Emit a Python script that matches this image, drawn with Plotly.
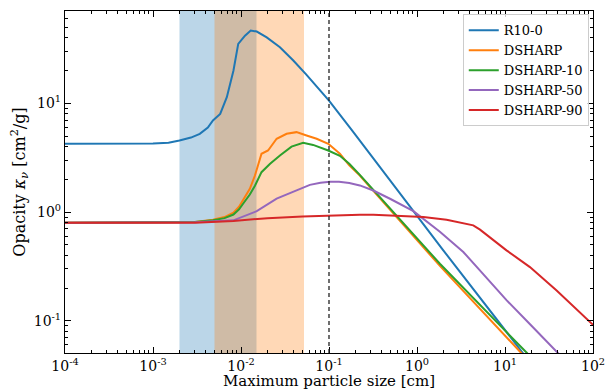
import plotly.graph_objects as go

# ---- data ----
r10_x = [1e-4, 5e-4, 1e-3, 0.0015, 0.002, 0.0027, 0.0034, 0.0042, 0.0048, 0.0058, 0.0069, 0.0082, 0.0093,
         0.0111, 0.0129, 0.0151, 0.0196, 0.0277, 0.0393, 0.0556, 0.075, 0.1, 0.18, 0.333, 0.95, 1.99,
         16.1, 25]
r10_y = [4.25, 4.25, 4.27, 4.35, 4.55, 4.85, 5.25, 6.0, 6.96, 8.0, 11.4, 20, 35.3,
         42, 46.8, 45.8, 40.5, 32.9, 24.8, 18.3, 13.85, 10.6, 5.75, 2.99, 1.0, 0.445,
         0.05, 0.031]

ds_x = [1e-4, 1e-3, 0.003, 0.0048, 0.0065, 0.0082, 0.0095, 0.0106, 0.0126, 0.0144, 0.0157, 0.0171,
        0.0203, 0.0222, 0.0254, 0.033, 0.0427, 0.0556, 0.0724, 0.0982, 0.133, 0.17, 0.224, 0.587,
        1.82, 15.5, 25]
ds_y = [0.8, 0.8, 0.81, 0.85, 0.9, 0.99, 1.12, 1.3, 1.64, 2.17, 2.78, 3.44,
        3.69, 4.1, 4.73, 5.25, 5.44, 5.07, 4.73, 4.25, 3.44, 2.69, 2.17, 0.9,
        0.32, 0.05, 0.033]

d10_x = [1e-4, 1e-3, 0.003, 0.0048, 0.0065, 0.0082, 0.0095, 0.0106, 0.0126, 0.0144, 0.0171, 0.0214,
         0.0277, 0.0375, 0.0508, 0.066, 0.098, 0.133, 0.17, 0.224, 0.587, 1.82, 18, 25]
d10_y = [0.8, 0.8, 0.81, 0.84, 0.88, 0.95, 1.06, 1.2, 1.45, 1.75, 2.33, 2.78,
         3.32, 4.0, 4.34, 4.15, 3.69, 3.3, 2.78, 2.2, 0.92, 0.335, 0.05, 0.037]

d50_x = [1e-4, 1e-3, 0.003, 0.0082, 0.0151, 0.0254, 0.0508, 0.0606, 0.08, 0.103, 0.13, 0.17, 0.224,
         0.319, 0.5, 0.91, 1.82, 2.5, 3.36, 5.0, 10.4, 20, 40.4, 60]
d50_y = [0.8, 0.8, 0.805, 0.84, 1.02, 1.33, 1.68, 1.78, 1.86, 1.9, 1.9, 1.85, 1.76,
         1.58, 1.32, 1.02, 0.66, 0.53, 0.43, 0.30, 0.155, 0.09, 0.05, 0.036]

d90_x = [1e-4, 1e-3, 0.003, 0.0082, 0.0126, 0.02, 0.05, 0.1, 0.224, 0.32, 0.587, 1.18, 2.17,
         3.0, 3.66, 4.36, 5.2, 10.4, 19.2, 38.6, 100]
d90_y = [0.8, 0.8, 0.8, 0.83, 0.856, 0.88, 0.91, 0.93, 0.945, 0.945, 0.93, 0.9, 0.85,
         0.81, 0.785, 0.755, 0.69, 0.445, 0.312, 0.19, 0.092]

series = [("R10-0", r10_x, r10_y, "#1f77b4"),
          ("DSHARP", ds_x, ds_y, "#ff7f0e"),
          ("DSHARP-10", d10_x, d10_y, "#2ca02c"),
          ("DSHARP-50", d50_x, d50_y, "#9467bd"),
          ("DSHARP-90", d90_x, d90_y, "#d62728")]

band_blue = [0.002, 0.015]
band_orange = [0.005, 0.052]
vline_x = 0.1

x_tickvals = [1e-4, 1e-3, 1e-2, 1e-1, 1, 10, 100]
x_ticktext = ["10<sup>-4</sup>", "10<sup>-3</sup>", "10<sup>-2</sup>", "10<sup>-1</sup>",
              "10<sup>0</sup>", "10<sup>1</sup>", "10<sup>2</sup>"]
y_tickvals = [0.1, 1, 10]
y_ticktext = ["10<sup>-1</sup>", "10<sup>0</sup>", "10<sup>1</sup>"]

font = "DejaVu Serif"

fig = go.Figure()
for name, xs, ys, col in series:
    fig.add_trace(go.Scatter(x=xs, y=ys, mode="lines", name=name,
                             line=dict(color=col, width=2)))

fig.add_vrect(x0=band_blue[0], x1=band_blue[1], fillcolor="#1f77b4", opacity=0.3,
              line_width=0, layer="below")
fig.add_vrect(x0=band_orange[0], x1=band_orange[1], fillcolor="#ff7f0e", opacity=0.3,
              line_width=0, layer="below")
fig.add_vline(x=vline_x, line=dict(color="#222222", width=1.3, dash="4px,3px"))

axis_common = dict(type="log", showgrid=False, zeroline=False, showline=True, linecolor="black",
                   linewidth=1.2, mirror="ticks", ticks="inside", ticklen=6, tickwidth=1,
                   tickcolor="black", automargin=False,
                   tickfont=dict(family=font, size=14, color="black"),
                   minor=dict(ticks="inside", ticklen=3, tickcolor="black", dtick="D1", showgrid=False))

fig.update_xaxes(**axis_common, range=[-4, 2], tickvals=x_tickvals, ticktext=x_ticktext,
                 title=dict(text="Maximum particle size [cm]", font=dict(family=font, size=15, color="black"),
                            standoff=5))
fig.update_yaxes(**axis_common, range=[-1.296, 1.85], tickvals=y_tickvals, ticktext=y_ticktext,
                 title=dict(text="Opacity <i>κ<sub>ν</sub></i> [cm<sup>2</sup>/g]",
                            font=dict(family=font, size=16, color="black"), standoff=4))

fig.update_layout(
    width=606, height=390, margin=dict(l=65, r=13, t=11, b=37),
    plot_bgcolor="white", paper_bgcolor="white",
    font=dict(family=font, color="black"),
    legend=dict(x=0.992, y=0.99, xanchor="right", yanchor="top", bgcolor="rgba(255,255,255,0.8)",
                bordercolor="#cccccc", borderwidth=1, font=dict(family=font, size=13, color="black"),
                tracegroupgap=0, itemwidth=30),
    showlegend=True,
)

fig.write_html("out.html")
